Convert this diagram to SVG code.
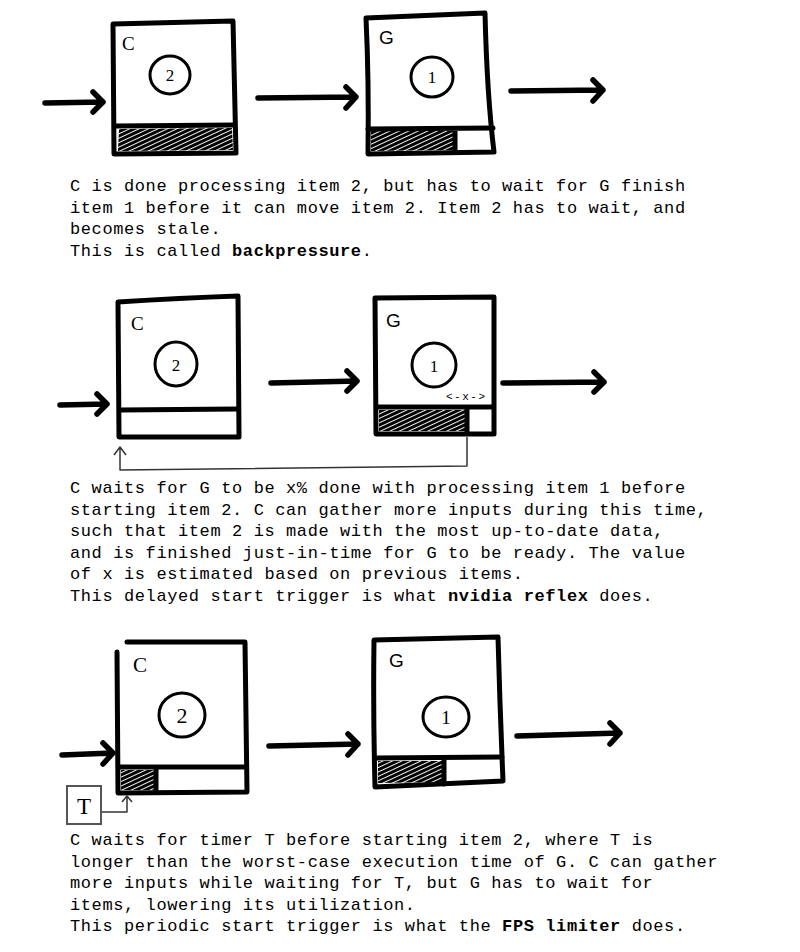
<svg xmlns="http://www.w3.org/2000/svg" width="800" height="952" viewBox="0 0 800 952">
<style>
.bg{fill:#fff}
.box{fill:#fff;stroke:#000;stroke-width:5;stroke-linejoin:round;stroke-linecap:round}
.ln{fill:none;stroke:#000;stroke-width:5;stroke-linecap:round;stroke-linejoin:round}
.hatch{fill:url(#hatch)}
.circ{fill:none;stroke:#000;stroke-width:3}
.arrow{fill:none;stroke:#000;stroke-width:5.5;stroke-linecap:round;stroke-linejoin:round}
.thin{fill:none;stroke:#333;stroke-width:1.5;stroke-linejoin:round}
.txt{font-family:"Liberation Mono",monospace;font-size:17px;letter-spacing:0.6px;fill:#000}
.lbl{font-family:"Liberation Serif",serif;font-size:19px;fill:#000}
.lblg{font-family:"Liberation Sans",sans-serif;font-size:19px;fill:#000}
.num{font-family:"Liberation Serif",serif;font-size:17px;fill:#000;text-anchor:middle}
.small{font-family:"Liberation Mono",monospace;font-size:11px;letter-spacing:1.5px;fill:#000}
</style>
<defs>
<pattern id="hatch" patternUnits="userSpaceOnUse" width="4" height="4" patternTransform="rotate(65)">
<rect width="4" height="4" fill="#fff"/>
<line x1="1.5" y1="0" x2="1.5" y2="4" stroke="#000" stroke-width="3.1"/>
</pattern>
</defs>
<rect class="bg" x="0" y="0" width="800" height="952"/>

<!-- Diagram 1 -->
<g id="C1">
<path class="box" d="M113,24 L233,21 L236,153 L114,154 Z"/>
<path class="hatch" d="M119,129 L232,128 L233,150 L118,151 Z"/>
<path class="ln" d="M116,126 L234,125"/>
<text class="lbl" x="122" y="50">C</text>
<ellipse class="circ" cx="170" cy="75" rx="20" ry="19"/>
<text class="num" x="170" y="81">2</text>
</g>
<g id="G1">
<path class="box" d="M366,18 L485,13 Q487,95 494,152 L368,154 Q369,80 366,18 Z"/>
<path class="hatch" d="M371,131 L453,131 L453,150 L371,151 Z"/>
<path class="ln" d="M368,129 L493,128 M455,129 L455,152"/>
<text class="lblg" x="379" y="44">G</text>
<ellipse class="circ" cx="432" cy="77" rx="21" ry="20"/>
<text class="num" x="432" y="83">1</text>
</g>

<!-- Diagram 2 -->
<g id="C2">
<path class="box" d="M118,302 Q180,298 238,296 L239,437 L119,437 Z"/>
<path class="ln" d="M120,410 L237,409"/>
<text class="lbl" x="131" y="330">C</text>
<ellipse class="circ" cx="176" cy="364" rx="21" ry="22"/>
<text class="num" x="176" y="371">2</text>
</g>
<g id="G2">
<path class="box" d="M375,298 L494,297 L494,434 L376,434 Z"/>
<path class="hatch" d="M379,410 L465,410 L465,431 L379,431 Z"/>
<path class="ln" d="M377,407 L493,407 M467,408 L467,433"/>
<text class="lblg" x="386" y="327">G</text>
<ellipse class="circ" cx="434" cy="365" rx="22" ry="22"/>
<text class="num" x="434" y="372">1</text>
<text class="small" x="446" y="400">&lt;-x-&gt;</text>
</g>

<!-- Diagram 3 -->
<g id="C3">
<path class="box" d="M127,642 L245,642 L247,792 L118,793 L117,652"/>
<path class="hatch" d="M121,770 L154,770 L154,790 L121,790 Z"/>
<path class="ln" d="M119,767 L246,767 M156,768 L156,792"/>
<text class="lbl" x="133" y="672" style="font-size:21px">C</text>
<ellipse class="circ" cx="182" cy="715" rx="23" ry="22"/>
<text class="num" x="182" y="723" style="font-size:22px">2</text>
</g>
<g id="G3">
<path class="box" d="M374,640 L498,637 Q500,710 503,781 L375,787 Q373,710 374,640 Z"/>
<path class="hatch" d="M378,761 L442,761 L442,782 L378,783 Z"/>
<path class="ln" d="M376,758 L502,757 M444,758 L444,784"/>
<text class="lblg" x="389" y="667">G</text>
<ellipse class="circ" cx="446" cy="717" rx="23" ry="20"/>
<text class="num" x="446" y="724" style="font-size:19px">1</text>
</g>
<g id="T">
<rect x="67" y="786" width="34" height="38" fill="#fff" stroke="#555" stroke-width="2"/>
<text x="84" y="814" style="font-family:'Liberation Serif',serif;font-size:23px;text-anchor:middle">T</text>
</g>

<g id="connectors">
<path class="arrow" d="M45,103 L103,102 M93,92 L103,102 L93,112"/>
<path class="arrow" d="M258,98 L356,97 M346,87 L356,97 L346,108"/>
<path class="arrow" d="M511,91 L603,90 M593,80 L603,90 L593,101"/>
<path class="arrow" d="M60,405 L107,404 M97,394 L107,404 L97,414"/>
<path class="arrow" d="M271,383 L357,381 M347,371 L357,381 L347,391"/>
<path class="arrow" d="M503,383 L604,382 M594,372 L604,382 L594,392"/>
<path class="thin" d="M467,437 L467,466 L120,470 L120,448 M114,455 L120,447 L126,455"/>
<path class="arrow" d="M62,755 L113,753 M103,743 L113,753 L103,764"/>
<path class="arrow" d="M269,746 L358,744 M348,734 L358,744 L348,755"/>
<path class="arrow" d="M517,736 L620,733 M610,723 L620,733 L610,744"/>
<path class="thin" d="M102,812 L127,812 L127,796 M122,802 L127,796 L132,802"/>
</g>

<g id="text1">
<text class="txt" x="70" y="191">C is done processing item 2, but has to wait for G finish</text>
<text class="txt" x="70" y="212.5">item 1 before it can move item 2. Item 2 has to wait, and</text>
<text class="txt" x="70" y="234">becomes stale.</text>
<text class="txt" x="70" y="255.5">This is called <tspan font-weight="bold">backpressure</tspan>.</text>
</g>
<g id="text2">
<text class="txt" x="70" y="493">C waits for G to be x% done with processing item 1 before</text>
<text class="txt" x="70" y="514.6">starting item 2. C can gather more inputs during this time,</text>
<text class="txt" x="70" y="536.2">such that item 2 is made with the most up-to-date data,</text>
<text class="txt" x="70" y="557.8">and is finished just-in-time for G to be ready. The value</text>
<text class="txt" x="70" y="579.4">of x is estimated based on previous items.</text>
<text class="txt" x="70" y="601">This delayed start trigger is what <tspan font-weight="bold">nvidia reflex</tspan> does.</text>
</g>
<g id="text3">
<text class="txt" x="70" y="845">C waits for timer T before starting item 2, where T is</text>
<text class="txt" x="70" y="866.5">longer than the worst-case execution time of G. C can gather</text>
<text class="txt" x="70" y="888">more inputs while waiting for T, but G has to wait for</text>
<text class="txt" x="70" y="909.5">items, lowering its utilization.</text>
<text class="txt" x="70" y="931">This periodic start trigger is what the <tspan font-weight="bold">FPS limiter</tspan> does.</text>
</g>
</svg>
